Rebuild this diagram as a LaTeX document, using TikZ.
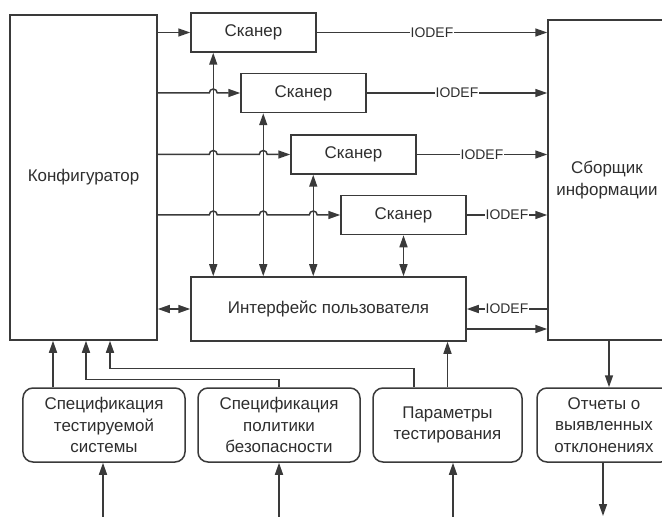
\documentclass[tikz,border=0pt]{standalone}
\usepackage{fontspec}
\setmainfont{Liberation Sans}
\usetikzlibrary{arrows.meta,positioning,calc}
\definecolor{Ink}{HTML}{3A3A3A}
\definecolor{TextInk}{HTML}{2E2E2E}

\begin{document}
\begin{tikzpicture}[
  x=1bp,y=-1bp,
  every node/.style={font=\fontsize{17}{21.5}\selectfont,text=TextInk},
  blockbox/.style={draw=Ink,line width=1.5bp,fill=white,align=center,inner sep=0pt},
  scanbox/.style={blockbox,minimum width=125bp,minimum height=39bp},
  docbox/.style={blockbox,rounded corners=10bp,minimum height=74bp},
  arr/.style={-{Triangle[length=12bp,width=8bp]},line width=1.5bp,draw=Ink},
  darr/.style={{Triangle[length=12bp,width=8bp]}-{Triangle[length=12bp,width=8bp]},line width=1.5bp,draw=Ink},
  lbl/.style={fill=white,inner xsep=1bp,inner ysep=0pt,font=\fontsize{14}{15}\selectfont}
]
\useasboundingbox (0,0) rectangle (662,517);
\node[blockbox,minimum width=147bp,minimum height=325bp] (konf) at (83.5,177.5) {Конфигуратор};
\node[scanbox] (scan1) at (253.5,32.5) {Сканер};
\node[scanbox] (scan2) at (303.5,93) {Сканер};
\node[scanbox] (scan3) at (353.5,154.5) {Сканер};
\node[scanbox] (scan4) at (403.5,215) {Сканер};
\node[blockbox,minimum width=118bp,minimum height=320bp] (coll) at (607,180) {Сборщик\\информации};
\node[blockbox,minimum width=275bp,minimum height=64bp] (iface) at (328.5,309) {Интерфейс пользователя};
\node[docbox,minimum width=162bp] (spec1) at (104,425) {Спецификация\\тестируемой\\системы};
\node[docbox,minimum width=162bp] (spec2) at (279,425) {Спецификация\\политики\\безопасности};
\node[docbox,minimum width=149bp] (param) at (447.5,425) {Параметры\\тестирования};
\node[docbox,minimum width=134bp] (report) at (604,425) {Отчеты о\\выявленных\\отклонениях};
\coordinate (v1) at ([xshift=23bp]scan1.south west);
\coordinate (v2) at ([xshift=23bp]scan2.south west);
\coordinate (v3) at ([xshift=23bp]scan3.south west);
\coordinate (v4) at (scan4.south);
\coordinate (in1) at (103,517);
\coordinate (in2) at (279,517);
\coordinate (in3) at (453,517);
\coordinate (out1) at (603,516);
\draw[arr] (konf.east |- scan1.west) -- (scan1.west);
\draw[arr] (konf.east |- scan2.west) -- ($(v1 |- scan2.west)+(-4,0)$) arc[start angle=180,end angle=0,radius=4bp] -- (scan2.west);
\draw[arr] (konf.east |- scan3.west) -- ($(v1 |- scan3.west)+(-4,0)$) arc[start angle=180,end angle=0,radius=4bp]
  -- ($(v2 |- scan3.west)+(-4,0)$) arc[start angle=180,end angle=0,radius=4bp] -- (scan3.west);
\draw[arr] (konf.east |- scan4.west) -- ($(v1 |- scan4.west)+(-4,0)$) arc[start angle=180,end angle=0,radius=4bp]
  -- ($(v2 |- scan4.west)+(-4,0)$) arc[start angle=180,end angle=0,radius=4bp]
  -- ($(v3 |- scan4.west)+(-4,0)$) arc[start angle=180,end angle=0,radius=4bp] -- (scan4.west);
\draw[darr] (v1) -- (v1 |- iface.north);
\draw[darr] (v2) -- (v2 |- iface.north);
\draw[darr] (v3) -- (v3 |- iface.north);
\draw[darr] (v4) -- (v4 |- iface.north);
\draw[arr] (scan1.east) -- node[lbl] {IODEF} (scan1.east -| coll.west);
\draw[arr] (scan2.east) -- node[lbl] {IODEF} (scan2.east -| coll.west);
\draw[arr] (scan3.east) -- node[lbl] {IODEF} (scan3.east -| coll.west);
\draw[arr] (scan4.east) -- node[lbl] {IODEF} (scan4.east -| coll.west);
\draw[arr] (coll.west |- iface.east) -- node[lbl] {IODEF} (iface.east);
\draw[arr] ([yshift=-20bp]iface.east) -- ([yshift=-20bp]iface.east -| coll.west);
\draw[darr] (konf.east |- iface.west) -- (iface.west);
\draw[arr] ([xshift=-51bp]spec1.north) -- ([xshift=-51bp]spec1.north |- konf.south);
\draw[arr] (spec2.north) -- ++(0,-8) -| ([xshift=2.5bp]konf.south);
\draw[arr] ([xshift=-33.5bp]param.north) -- ++(0,-19) -| ([xshift=26.5bp]konf.south);
\draw[arr] (param.north) -- (param.north |- iface.south);
\draw[arr] ([xshift=2bp]coll.south) -- ([xshift=2bp]coll.south |- report.north);
\draw[arr] (in1) -- (in1 |- spec1.south);
\draw[arr] (in2) -- (in2 |- spec2.south);
\draw[arr] (in3) -- (in3 |- param.south);
\draw[arr] (report.south -| out1) -- (out1);
\end{tikzpicture}
\end{document}
